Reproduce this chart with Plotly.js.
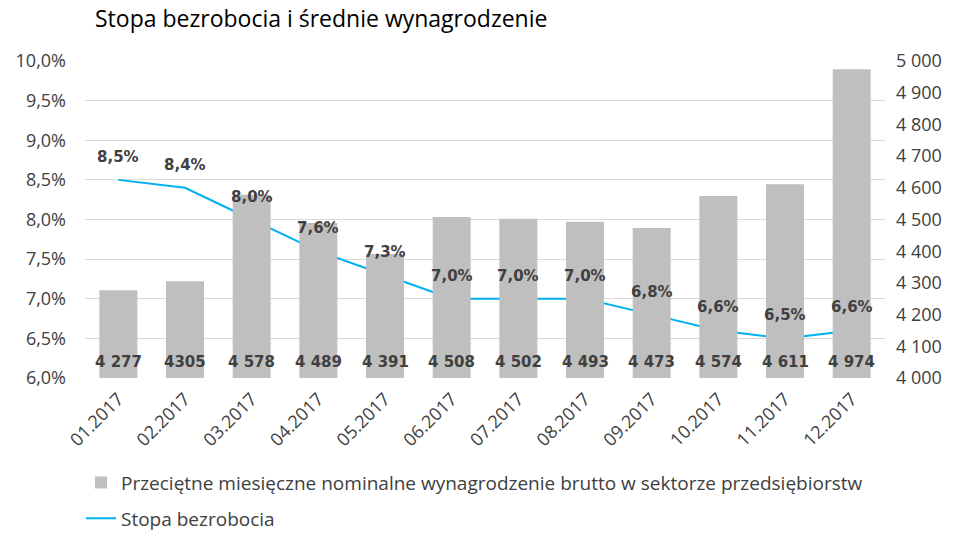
<!DOCTYPE html>
<html>
<head>
<meta charset="utf-8">
<script src="https://cdn.plot.ly/plotly-3.0.1.min.js"></script>
<style>html,body{margin:0;padding:0;background:#fff;}#chart{width:955px;height:533px;}</style>
</head>
<body>
<div id="chart"></div>
<script>
const months = ['01.2017','02.2017','03.2017','04.2017','05.2017','06.2017','07.2017','08.2017','09.2017','10.2017','11.2017','12.2017'];
const wages = [4277,4305,4578,4489,4391,4508,4502,4493,4473,4574,4611,4974];
const wageLabels = ['4 277','4305','4 578','4 489','4 391','4 508','4 502','4 493','4 473','4 574','4 611','4 974'];
const unemployment = [0.085,0.084,0.080,0.076,0.073,0.070,0.070,0.070,0.068,0.066,0.065,0.066];
const leftTicks = [0.06,0.065,0.07,0.075,0.08,0.085,0.09,0.095,0.10];
const rightTicks = [4000,4100,4200,4300,4400,4500,4600,4700,4800,4900,5000];

const fontMain = 'Open Sans, sans-serif';
const labelFont = {family:'DejaVu Sans, sans-serif', size:15, color:'#404040', weight:'bold'};

const bars = {
  type:'bar', x:months, y:wages, yaxis:'y2', legendgroup:'a',
  name:'Przeciętne miesięczne nominalne wynagrodzenie brutto w sektorze przedsiębiorstw',
  marker:{color:'#bfbfbf'}, hoverinfo:'x+y'
};
const line = {
  type:'scatter', mode:'lines', x:months, y:unemployment, yaxis:'y', legendgroup:'b',
  name:'Stopa bezrobocia', line:{color:'#00b0f0', width:2}
};

const annotations = [];
unemployment.forEach((v,i)=>annotations.push({
  x:i, y:v, xref:'x', yref:'y', yshift:23, showarrow:false,
  text:(v*100).toFixed(1).replace('.',',')+'%', font:labelFont
}));
wages.forEach((v,i)=>annotations.push({
  x:i, y:4000, xref:'x', yref:'y2', yanchor:'bottom', yshift:5, showarrow:false,
  text:wageLabels[i], font:labelFont
}));
annotations.push({
  xref:'paper', yref:'paper', x:0.01, y:1.135, xanchor:'left', yanchor:'middle',
  showarrow:false, text:'Stopa bezrobocia i średnie wynagrodzenie',
  font:{family:fontMain, size:23, color:'#000'}
});

const layout = {
  width:955, height:533,
  margin:{l:85, r:70, t:61, b:155},
  paper_bgcolor:'#fff', plot_bgcolor:'#fff',
  separators:', ',
  showlegend:true,
  legend:{orientation:'v', xref:'paper', yref:'container', x:-0.005, xanchor:'left', y:0.13, yanchor:'top',
    font:{family:fontMain, size:19, color:'#404040'}, traceorder:'grouped', tracegroupgap:8},
  bargap:0.43,
  xaxis:{type:'category', range:[-0.5,11.5], tickangle:-45, tickfont:{family:fontMain, size:18, color:'#404040'},
    showgrid:false, zeroline:false, showline:false, ticks:'', automargin:false, ticklabelstandoff:6},
  yaxis:{range:[0.06,0.10], tickvals:leftTicks, tickformat:'.1%', side:'left',
    tickfont:{family:fontMain, size:18, color:'#404040'}, gridcolor:'#d9d9d9', gridwidth:1,
    zeroline:false, showline:false, ticks:'', ticklabelstandoff:18, automargin:false},
  yaxis2:{range:[4000,5000], tickvals:rightTicks, tickformat:',d', overlaying:'y', side:'right',
    tickfont:{family:fontMain, size:18, color:'#404040'}, showgrid:false, zeroline:false,
    showline:false, ticks:'', ticklabelstandoff:10, automargin:false},
  annotations:annotations
};

Plotly.newPlot('chart',[bars,line],layout,{displayModeBar:false, staticPlot:true});
</script>
</body>
</html>
